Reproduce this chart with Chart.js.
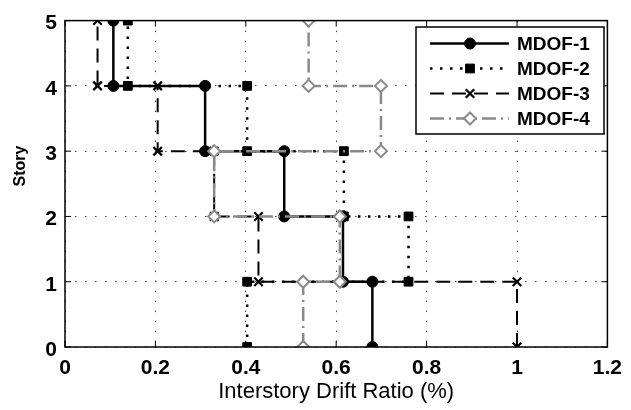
<!DOCTYPE html>
<html>
<head>
<meta charset="utf-8">
<script src="https://cdn.jsdelivr.net/npm/chart.js@4/dist/chart.umd.min.js"></script>
<style>
  html, body { margin: 0; padding: 0; background: #fff; }
  #wrap { width: 631px; height: 410px; }
</style>
</head>
<body>
<div id="wrap"><canvas id="myChart" width="631" height="410"></canvas></div>
<script>
let chart;

// story levels walked by every step path (bottom to top)
const storyPath = [0, 1, 1, 2, 2, 3, 3, 4, 4, 5];

// interstory drift ratio (%) at each point of the path
const mdof1Drift = [0.68, 0.68, 0.615, 0.615, 0.485, 0.485, 0.31, 0.31, 0.107, 0.107];
const mdof2Drift = [0.403, 0.403, 0.76, 0.76, 0.617, 0.617, 0.403, 0.403, 0.139, 0.139];
const mdof3Drift = [1.0, 1.0, 0.428, 0.428, 0.33, 0.33, 0.205, 0.205, 0.072, 0.072];
const mdof4Drift = [0.527, 0.527, 0.608, 0.608, 0.33, 0.33, 0.699, 0.699, 0.539, 0.539];

const seriesNames = ["MDOF-1", "MDOF-2", "MDOF-3", "MDOF-4"];
const xTicks = [0, 0.2, 0.4, 0.6, 0.8, 1, 1.2];
const yTicks = [0, 1, 2, 3, 4, 5];

const FONT = "'Liberation Sans', Arial, sans-serif";

function toPoints(drift) {
  return drift.map((d, i) => ({ x: d, y: storyPath[i] }));
}

// frame, inward tick marks, y title and the legend box
const framePlugin = {
  id: 'frame',
  afterDraw(c) {
    const ctx = c.ctx;
    const a = c.chartArea;
    const xs = c.scales.x, ys = c.scales.y;
    ctx.save();
    ctx.strokeStyle = '#000';
    ctx.lineWidth = 1.5;
    ctx.setLineDash([]);
    ctx.strokeRect(a.left, a.top, a.right - a.left, a.bottom - a.top);

    ctx.lineWidth = 1;
    ctx.beginPath();
    xTicks.forEach(v => {
      const px = xs.getPixelForValue(v);
      ctx.moveTo(px, a.bottom); ctx.lineTo(px, a.bottom - 6);
      ctx.moveTo(px, a.top); ctx.lineTo(px, a.top + 6);
    });
    yTicks.forEach(v => {
      const py = ys.getPixelForValue(v);
      ctx.moveTo(a.left, py); ctx.lineTo(a.left + 6, py);
      ctx.moveTo(a.right, py); ctx.lineTo(a.right - 6, py);
    });
    ctx.stroke();

    // y axis title
    ctx.save();
    ctx.translate(21, 166);
    ctx.rotate(-Math.PI / 2);
    ctx.fillStyle = '#000';
    ctx.font = "bold 16px " + FONT;
    ctx.textAlign = 'center';
    ctx.textBaseline = 'middle';
    ctx.fillText('Story', 0, 0);
    ctx.restore();

    // legend
    const bx = 416, by = 27, bw = 188, bh = 107;
    ctx.fillStyle = '#fff';
    ctx.fillRect(bx, by, bw, bh);
    ctx.strokeStyle = '#000';
    ctx.lineWidth = 1.5;
    ctx.strokeRect(bx, by, bw, bh);

    c.data.datasets.forEach((ds, i) => {
      const y = 43.5 + i * 25;
      ctx.strokeStyle = ds.borderColor;
      ctx.lineWidth = ds.borderWidth;
      ctx.setLineDash(ds.borderDash || []);
      ctx.beginPath();
      ctx.moveTo(430, y);
      ctx.lineTo(509, y);
      ctx.stroke();
      ctx.setLineDash([]);
      ctx.fillStyle = ds.pointBackgroundColor;
      ctx.strokeStyle = ds.pointBorderColor;
      ctx.lineWidth = ds.pointBorderWidth;
      Chart.helpers.drawPoint(ctx, {
        pointStyle: ds.pointStyle,
        radius: ds.pointRadius,
        rotation: 0,
        borderWidth: ds.pointBorderWidth
      }, 470, y);
      ctx.fillStyle = '#000';
      ctx.font = "bold 19px " + FONT;
      ctx.textAlign = 'left';
      ctx.textBaseline = 'middle';
      ctx.fillText(ds.label, 517, y + 1);
    });
    ctx.restore();
  }
};

function makeChart() {
  const ctx = document.getElementById("myChart");

  if (chart) {
    chart.destroy();
  }

  chart = new Chart(ctx, {
    type: 'scatter',
    data: {
      datasets: [
        {
          label: seriesNames[0],
          data: toPoints(mdof1Drift),
          showLine: true,
          borderColor: '#000',
          borderWidth: 2.5,
          borderDash: [],
          pointStyle: 'circle',
          pointRadius: 5.5,
          pointBackgroundColor: '#000',
          pointBorderColor: '#000',
          pointBorderWidth: 1,
          order: 3
        },
        {
          label: seriesNames[1],
          data: toPoints(mdof2Drift),
          showLine: true,
          borderColor: '#000',
          borderWidth: 2.5,
          borderDash: [2.5, 7.5],
          pointStyle: 'rect',
          pointRadius: 6.2,
          pointBackgroundColor: '#000',
          pointBorderColor: '#000',
          pointBorderWidth: 1,
          order: 2
        },
        {
          label: seriesNames[2],
          data: toPoints(mdof3Drift),
          showLine: true,
          borderColor: '#000',
          borderWidth: 2,
          borderDash: [14, 8],
          pointStyle: 'crossRot',
          pointRadius: 6,
          pointBackgroundColor: '#000',
          pointBorderColor: '#000',
          pointBorderWidth: 2.2,
          order: 1
        },
        {
          label: seriesNames[3],
          data: toPoints(mdof4Drift),
          showLine: true,
          borderColor: '#8a8a8a',
          borderWidth: 2.5,
          borderDash: [14, 5, 2, 5],
          pointStyle: 'rectRot',
          pointRadius: 6,
          pointBackgroundColor: '#fff',
          pointBorderColor: '#8a8a8a',
          pointBorderWidth: 2,
          order: 0
        }
      ]
    },
    options: {
      responsive: false,
      animation: false,
      devicePixelRatio: 1,
      layout: { padding: { top: 14, right: 15, left: 0, bottom: 0 } },
      plugins: {
        legend: { display: false },
        tooltip: { enabled: false }
      },
      elements: { line: { tension: 0 } },
      scales: {
        x: {
          type: 'linear',
          min: 0,
          max: 1.2,
          afterBuildTicks: s => { s.ticks = xTicks.map(v => ({ value: v })); },
          afterFit: s => { s.height = 63; },
          border: { display: false, dash: [1.5, 8.5] },
          grid: {
            color: '#444',
            lineWidth: 1,
            drawTicks: false
          },
          ticks: {
            padding: 9,
            color: '#000',
            font: { family: FONT, size: 21, weight: 'bold' },
            callback: v => String(Math.round(v * 10) / 10)
          },
          title: {
            display: true,
            text: 'Interstory Drift Ratio (%)',
            color: '#000',
            font: { family: FONT, size: 22 },
            padding: { top: 0, bottom: 5 }
          }
        },
        y: {
          type: 'linear',
          min: 0,
          max: 5,
          afterBuildTicks: s => { s.ticks = yTicks.map(v => ({ value: v })); },
          afterFit: s => { s.width = 65; },
          border: { display: false, dash: [1.5, 8.5] },
          grid: {
            color: '#444',
            lineWidth: 1,
            drawTicks: false
          },
          ticks: {
            padding: 8,
            labelOffset: 3,
            color: '#000',
            font: { family: FONT, size: 21, weight: 'bold' }
          }
        }
      }
    },
    plugins: [framePlugin]
  });
}

makeChart();
</script>
</body>
</html>
